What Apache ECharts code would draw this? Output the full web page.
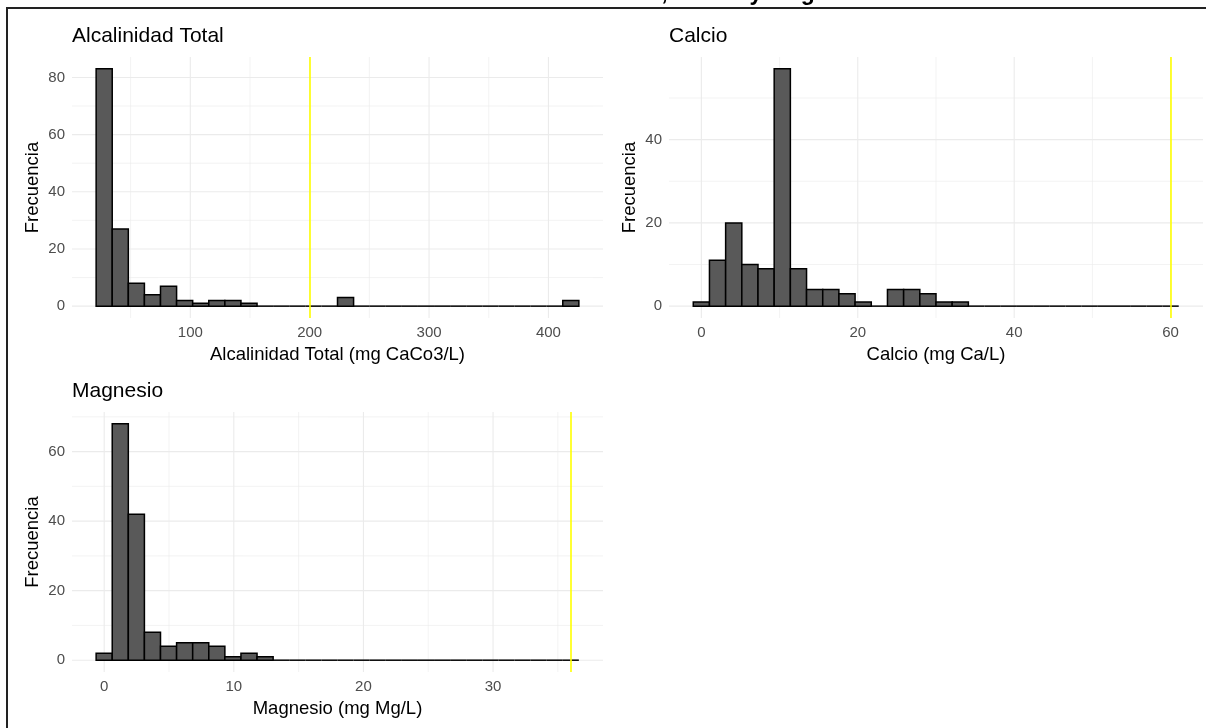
<!DOCTYPE html>
<html><head><meta charset="utf-8">
<script src="https://cdn.jsdelivr.net/npm/echarts@6/dist/echarts.min.js"></script>
<style>html,body{margin:0;padding:0;background:#fff;overflow:hidden}#c{width:1206px;height:728px}</style>
</head><body><div id="c"></div>
<script>
// ---- text ----
const mainTitle = 'Distribución de Alcalinidad Total, Calcio y Magnesio';
const panelTitles = ['Alcalinidad Total', 'Calcio', 'Magnesio'];
const xAxisNames = ['Alcalinidad Total (mg CaCo3/L)', 'Calcio (mg Ca/L)', 'Magnesio (mg Mg/L)'];
const yAxisName = 'Frecuencia';

// ---- histogram bins (first edge, bin width, counts) ----
const alcBinStart = 21.1, alcBinWidth = 13.48;
const alcCounts = [83, 27, 8, 4, 7, 2, 1, 2, 2, 1, 0, 0, 0, 0, 0, 3, 0, 0, 0, 0, 0, 0, 0, 0, 0, 0, 0, 0, 0, 2];
const caBinStart = -1.034, caBinWidth = 2.069;
const caCounts = [1, 11, 20, 10, 9, 57, 9, 4, 4, 3, 1, 0, 4, 4, 3, 1, 1, 0, 0, 0, 0, 0, 0, 0, 0, 0, 0, 0, 0, 0];
const mgBinStart = -0.621, mgBinWidth = 1.2414;
const mgCounts = [2, 68, 42, 8, 4, 5, 5, 4, 1, 2, 1, 0, 0, 0, 0, 0, 0, 0, 0, 0, 0, 0, 0, 0, 0, 0, 0, 0, 0, 0];

// ---- reference limits (yellow lines) ----
const alcLimit = 200, caLimit = 60, mgLimit = 36;

// ---- ticks ----
const alcXTicks = [100, 200, 300, 400], alcXMinor = [50, 150, 250, 350];
const alcYTicks = [0, 20, 40, 60, 80], alcYMinor = [10, 30, 50, 70];
const caXTicks = [0, 20, 40, 60], caXMinor = [10, 30, 50];
const caYTicks = [0, 20, 40], caYMinor = [10, 30, 50];
const mgXTicks = [0, 10, 20, 30], mgXMinor = [5, 15, 25, 35];
const mgYTicks = [0, 20, 40, 60], mgYMinor = [10, 30, 50, 70];

const FONT = "'Liberation Sans', Arial, sans-serif";

const panels = [
  { start: alcBinStart, width: alcBinWidth, counts: alcCounts, limit: alcLimit,
    xt: alcXTicks, xm: alcXMinor, yt: alcYTicks, ym: alcYMinor,
    grid: { left: 72, top: 57, width: 531, height: 261 }, title: [72, 25.5] },
  { start: caBinStart, width: caBinWidth, counts: caCounts, limit: caLimit,
    xt: caXTicks, xm: caXMinor, yt: caYTicks, ym: caYMinor,
    grid: { left: 669, top: 57, width: 534, height: 261 }, title: [669, 25.5] },
  { start: mgBinStart, width: mgBinWidth, counts: mgCounts, limit: mgLimit,
    xt: mgXTicks, xm: mgXMinor, yt: mgYTicks, ym: mgYMinor,
    grid: { left: 72, top: 412, width: 531, height: 260 }, title: [72, 381] }
];

const grids = [], xAxes = [], yAxes = [], series = [], titles = [];

panels.forEach((p, i) => {
  const n = p.counts.length;
  let lo = Math.min(p.start, p.limit), hi = Math.max(p.start + n * p.width, p.limit);
  const padX = 0.05 * (hi - lo);
  const xMin = lo - padX, xMax = hi + padX;
  const cMax = Math.max(...p.counts);
  const yMin = -0.05 * cMax, yMax = 1.05 * cMax;

  grids.push(Object.assign({ containLabel: false }, p.grid));
  xAxes.push({
    type: 'value', gridIndex: i, min: xMin, max: xMax,
    name: xAxisNames[i], nameLocation: 'middle', nameGap: 27,
    nameTextStyle: { color: '#000', fontSize: 18.5, fontFamily: FONT },
    axisLine: { show: false }, axisTick: { show: false, customValues: p.xt },
    splitLine: { show: false },
    axisLabel: { customValues: p.xt, color: '#4D4D4D', fontSize: 15, fontFamily: FONT, margin: 7 }
  });
  yAxes.push({
    type: 'value', gridIndex: i, min: yMin, max: yMax,
    name: yAxisName, nameLocation: 'middle', nameGap: 30, nameRotate: 90,
    nameTextStyle: { color: '#000', fontSize: 18.5, fontFamily: FONT },
    axisLine: { show: false }, axisTick: { show: false, customValues: p.yt },
    splitLine: { show: false },
    axisLabel: { customValues: p.yt, color: '#4D4D4D', fontSize: 15, fontFamily: FONT, margin: 7 }
  });
  titles.push({
    text: panelTitles[i], left: p.title[0], top: p.title[1], padding: 0,
    textStyle: { color: '#000', fontSize: 21, fontWeight: 'normal', fontFamily: FONT }
  });

  // gridlines: vertical
  const vData = p.xm.map(v => [v, 0]).concat(p.xt.map(v => [v, 1]));
  series.push({
    type: 'custom', xAxisIndex: i, yAxisIndex: i, silent: true, z: 1,
    data: vData,
    renderItem: (params, api) => {
      const cs = params.coordSys;
      const x = api.coord([api.value(0), 0])[0];
      return { type: 'line', shape: { x1: x, y1: cs.y, x2: x, y2: cs.y + cs.height },
        style: { stroke: '#EBEBEB', lineWidth: api.value(1) ? 1.1 : 0.6 } };
    }
  });
  // gridlines: horizontal
  const hData = p.ym.map(v => [xMin, v, 0]).concat(p.yt.map(v => [xMin, v, 1]));
  series.push({
    type: 'custom', xAxisIndex: i, yAxisIndex: i, silent: true, z: 1,
    data: hData,
    renderItem: (params, api) => {
      const cs = params.coordSys;
      const y = api.coord([api.value(0), api.value(1)])[1];
      return { type: 'line', shape: { x1: cs.x, y1: y, x2: cs.x + cs.width, y2: y },
        style: { stroke: '#EBEBEB', lineWidth: api.value(2) ? 1.1 : 0.6 } };
    }
  });
  // histogram bins
  const bins = p.counts.map((c, k) => [p.start + k * p.width, p.start + (k + 1) * p.width, c]);
  series.push({
    type: 'custom', xAxisIndex: i, yAxisIndex: i, z: 2,
    data: bins,
    encode: { x: [0, 1], y: 2 },
    renderItem: (params, api) => {
      const x0 = api.value(0), x1 = api.value(1), c = api.value(2);
      const a = api.coord([x0, 0]), b = api.coord([x1, c]);
      if (c > 0) {
        return { type: 'rect', shape: { x: a[0], y: b[1], width: b[0] - a[0], height: a[1] - b[1] },
          style: { fill: '#595959', stroke: '#000', lineWidth: 1.5 } };
      }
      return { type: 'line', shape: { x1: a[0], y1: a[1], x2: b[0], y2: a[1] },
        style: { stroke: '#000', lineWidth: 1.5 } };
    },
    markLine: {
      silent: true, symbol: ['none', 'none'], animation: false,
      label: { show: false },
      lineStyle: { color: '#FFFF00', width: 1.6, type: 'solid' },
      data: [{ xAxis: p.limit }]
    }
  });
});

const chart = echarts.init(document.getElementById('c'), null, { renderer: 'canvas' });
chart.setOption({
  animation: false,
  backgroundColor: '#fff',
  title: titles,
  grid: grids,
  xAxis: xAxes,
  yAxis: yAxes,
  series: series,
  graphic: [
    { type: 'text', x: 590, y: -6.5, z: 10,
      style: { text: mainTitle, font: "bold 23px 'Liberation Sans', Arial, sans-serif",
        fill: '#000', align: 'center', verticalAlign: 'middle' } },
    { type: 'line', z: 30, shape: { x1: 6, y1: 8, x2: 1206, y2: 8 }, style: { stroke: '#222', lineWidth: 2 } },
    { type: 'line', z: 30, shape: { x1: 7, y1: 8, x2: 7, y2: 728 }, style: { stroke: '#222', lineWidth: 2 } }
  ]
});
</script>
</body></html>
